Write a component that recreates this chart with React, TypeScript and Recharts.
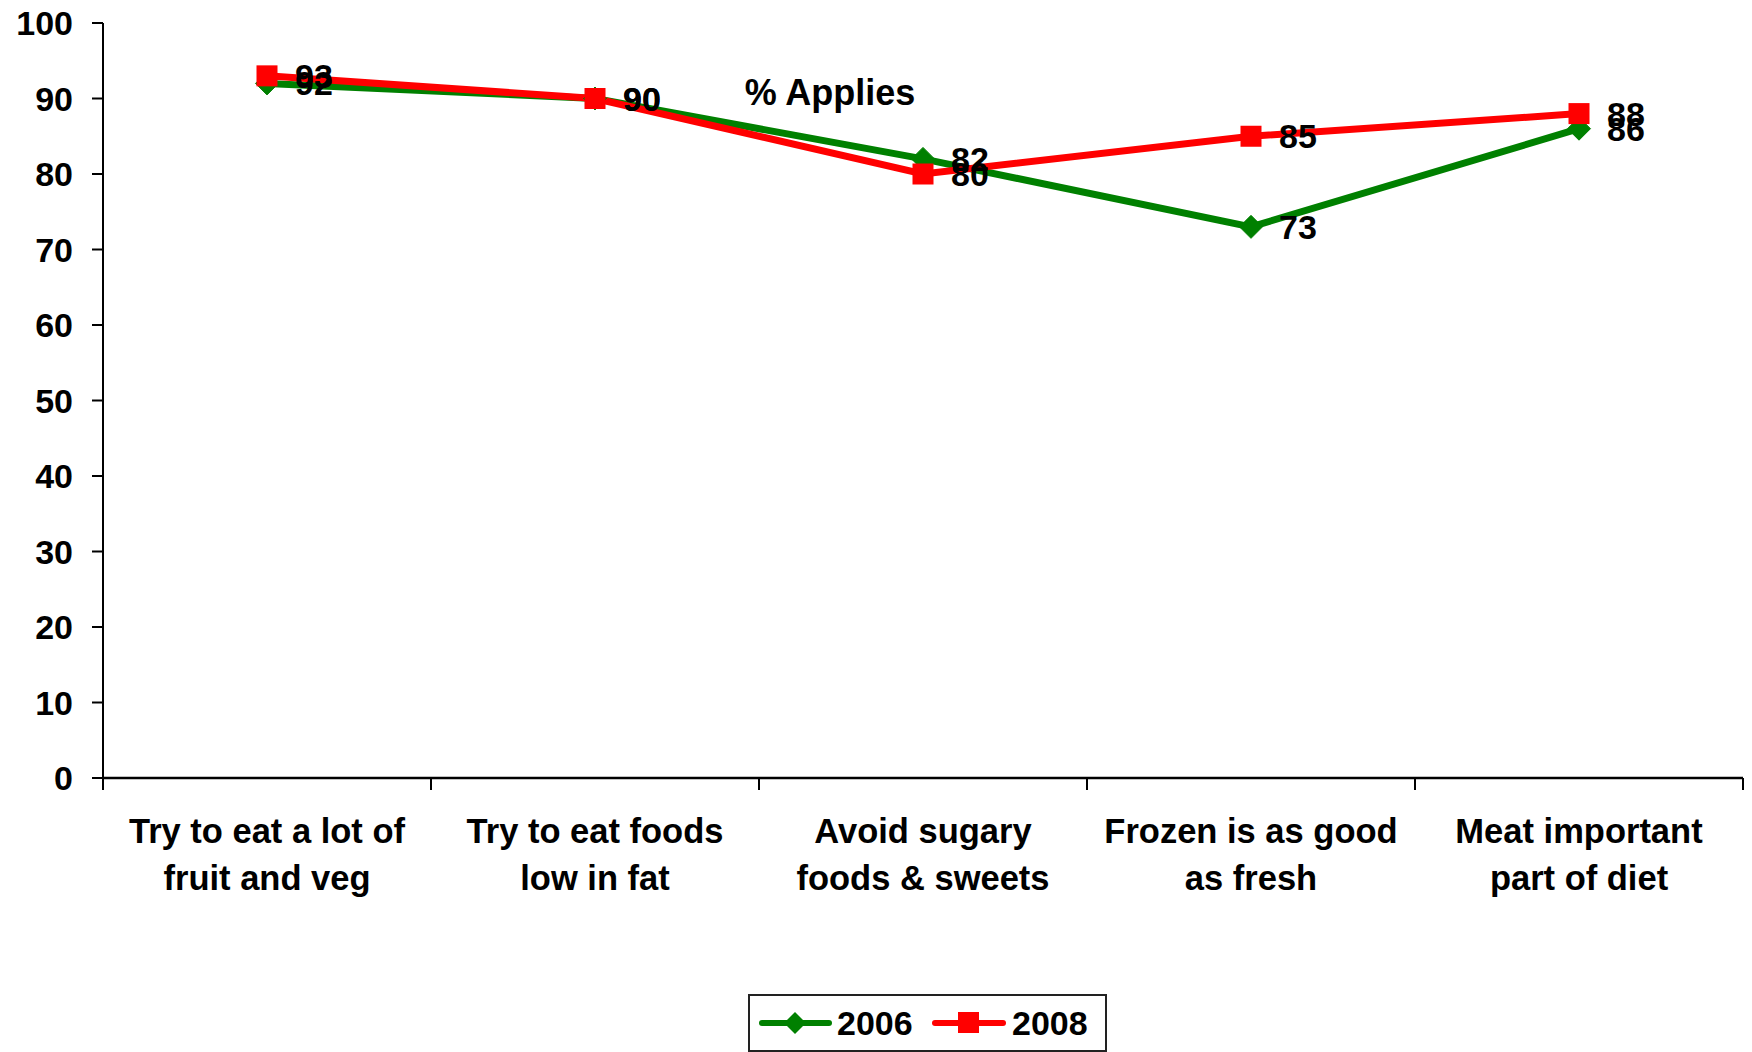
import React from "react";
import { LineChart, Line, XAxis, YAxis, LabelList } from "recharts";

// Survey categories (each string holds the two label lines)
const categories: string[] = [
  "Try to eat a lot of\nfruit and veg",
  "Try to eat foods\nlow in fat",
  "Avoid sugary\nfoods & sweets",
  "Frozen is as good\nas fresh",
  "Meat important\npart of diet",
];

// Share of respondents (%) for whom each statement applies
const values2006: number[] = [92, 90, 82, 73, 86];
const values2008: number[] = [93, 90, 80, 85, 88];

const yTicks: number[] = [0, 10, 20, 30, 40, 50, 60, 70, 80, 90, 100];

const chartTitle = "% Applies";
const seriesNames = ["2006", "2008"];

const GREEN = "#008000";
const RED = "#FF0000";
const FONT = "'Liberation Sans', Arial, sans-serif";

const data = categories.map((c, i) => ({
  name: c,
  y2006: values2006[i],
  y2008: values2008[i],
}));

const CHART_W = 1752;
const CHART_H = 1052;
const HALF_BAND = 164;

const XTick = (props: any) => {
  const { x, y, payload, index } = props;
  const lines = String(payload.value).split("\n");
  const last = index === categories.length - 1;
  return (
    <g>
      <line x1={x - HALF_BAND} x2={x - HALF_BAND} y1={y} y2={y + 12} stroke="#000" strokeWidth={2} />
      {last && (
        <line x1={x + HALF_BAND} x2={x + HALF_BAND} y1={y} y2={y + 12} stroke="#000" strokeWidth={2} />
      )}
      {lines.map((ln, i) => (
        <text
          key={i}
          x={x}
          y={y + 65 + i * 47}
          textAnchor="middle"
          fontFamily={FONT}
          fontWeight="bold"
          fontSize={34.5}
          fill="#000"
        >
          {ln}
        </text>
      ))}
    </g>
  );
};

const YTick = (props: any) => {
  const { x, y, payload } = props;
  return (
    <text
      x={x}
      y={y + 12}
      textAnchor="end"
      fontFamily={FONT}
      fontWeight="bold"
      fontSize={34}
      fill="#000"
    >
      {payload.value}
    </text>
  );
};

const ValueLabel = (props: any) => {
  const { x, y, value } = props;
  return (
    <text
      x={x + 28}
      y={y + 12}
      fontFamily={FONT}
      fontWeight="bold"
      fontSize={34}
      fill="#000"
    >
      {value}
    </text>
  );
};

const Diamond = (props: any) => {
  const { cx, cy, index } = props;
  const s = 11.5;
  return (
    <path
      key={`d-${index}`}
      d={`M${cx},${cy - s} L${cx + s},${cy} L${cx},${cy + s} L${cx - s},${cy} Z`}
      fill={GREEN}
      stroke={GREEN}
      strokeWidth={1}
    />
  );
};

const Square = (props: any) => {
  const { cx, cy, index } = props;
  const s = 10.5;
  return (
    <rect key={`s-${index}`} x={cx - s} y={cy - s} width={2 * s} height={2 * s} fill={RED} />
  );
};

export default function App() {
  return (
    <div style={{ position: "absolute", left: 0, top: 0, width: CHART_W, height: CHART_H, background: "#fff" }}>
      <LineChart
        width={CHART_W}
        height={CHART_H}
        data={data}
        margin={{ top: 23, right: 9, left: 0, bottom: 144 }}
      >
        <XAxis
          dataKey="name"
          height={130}
          padding={{ left: HALF_BAND, right: HALF_BAND }}
          axisLine={{ stroke: "#000", strokeWidth: 2.5 }}
          tickLine={false}
          tick={<XTick />}
          interval={0}
          tickSize={0}
          tickMargin={0}
        />
        <YAxis
          domain={[0, 100]}
          ticks={yTicks}
          width={103}
          axisLine={{ stroke: "#000", strokeWidth: 2 }}
          tickLine={{ stroke: "#000", strokeWidth: 2 }}
          tickSize={11}
          tickMargin={19}
          tick={<YTick />}
          interval={0}
        />
        <Line
          dataKey="y2006"
          stroke={GREEN}
          strokeWidth={7}
          dot={<Diamond />}
          activeDot={false}
          isAnimationActive={false}
        >
          <LabelList dataKey="y2006" content={<ValueLabel />} />
        </Line>
        <Line
          dataKey="y2008"
          stroke={RED}
          strokeWidth={7}
          dot={<Square />}
          activeDot={false}
          isAnimationActive={false}
        >
          <LabelList dataKey="y2008" content={<ValueLabel />} />
        </Line>
      </LineChart>
      <svg
        width={CHART_W}
        height={CHART_H}
        style={{ position: "absolute", left: 0, top: 0, pointerEvents: "none" }}
      >
        <text x={830} y={105} textAnchor="middle" fontFamily={FONT} fontWeight="bold" fontSize={36} fill="#000">
          {chartTitle}
        </text>
        <rect x={749} y={995} width={357} height={56} fill="#fff" stroke="#222" strokeWidth={2} />
        <line x1={762} x2={829} y1={1023} y2={1023} stroke={GREEN} strokeWidth={6} strokeLinecap="round" />
        <path d="M795,1012 L806,1023 L795,1034 L784,1023 Z" fill={GREEN} />
        <text x={837} y={1035} fontFamily={FONT} fontWeight="bold" fontSize={34} fill="#000">
          {seriesNames[0]}
        </text>
        <line x1={935} x2={1003} y1={1023} y2={1023} stroke={RED} strokeWidth={6} strokeLinecap="round" />
        <rect x={958} y={1012} width={21} height={21} fill={RED} />
        <text x={1012} y={1035} fontFamily={FONT} fontWeight="bold" fontSize={34} fill="#000">
          {seriesNames[1]}
        </text>
      </svg>
    </div>
  );
}
